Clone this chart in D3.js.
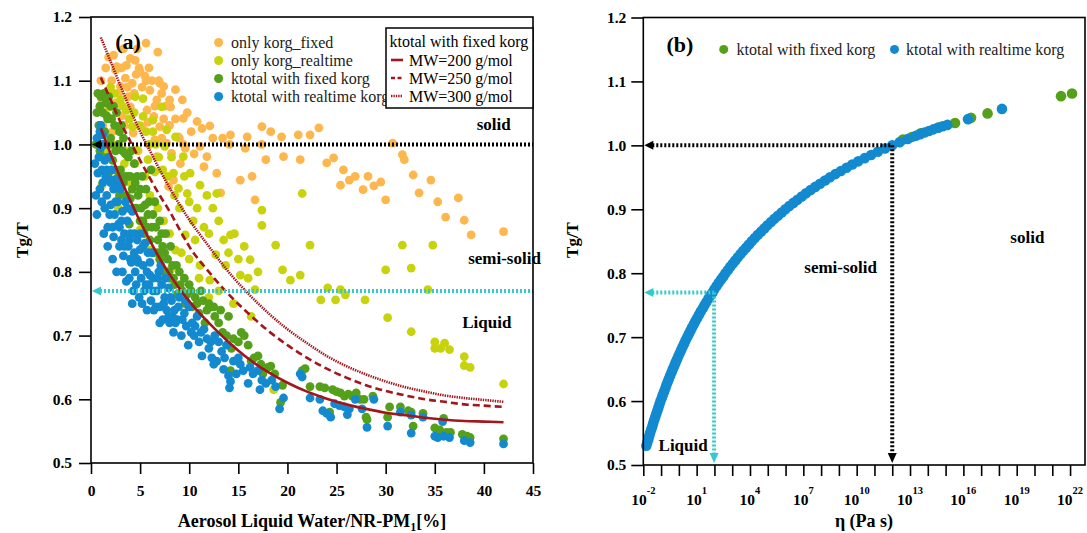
<!DOCTYPE html>
<html>
<head>
<meta charset="utf-8">
<script src="https://cdn.jsdelivr.net/npm/d3@7"></script>
<style>
  body { margin: 0; background: #fff; }
  svg { display: block; font-family: "Liberation Serif", "Times New Roman", serif; }
</style>
</head>
<body>
<svg id="chart" width="1087" height="533"></svg>
<script>
// ---- panel (a) data: [ALW/NR-PM1 %, Tg/T] ----
const orangeFixed = [
  [5.6,1.159],[6.8,1.145],[1.8,1.137],[4.5,1.132],[3.6,1.124],[4.9,1.12],[2.5,1.117],[2.6,1.122],
  [7.4,1.091],[8.6,1.086],[9.3,1.07],[9.4,1.041],[6.7,1.07],[7.2,1.08],[5.0,1.114],[4.6,1.11],
  [3.5,1.104],[5.5,1.107],[4.2,1.096],[3.0,1.091],[1.9,1.086],[1.4,1.075],[1.1,1.07],[2.4,1.065],
  [4.0,1.059],[5.7,1.054],[6.4,1.044],[7.0,1.028],[5.2,1.028],[4.3,1.018],[6.5,1.007],[7.7,1.002],
  [6.7,0.981],[8.4,0.944],[7.9,0.934],[5.6,1.1],[7.0,1.096],[8.1,1.059],[3.2,1.045],[2.0,1.04],
  [1.2,1.03],[3.8,1.075],[6.0,1.085],[8.0,1.03],[9.0,1.01],[2.8,1.0],[4.8,0.99],[6.2,0.96],
  [1.0,1.1],[1.3,1.05],[1.5,1.12],[2.1,1.1],[2.3,1.14],[2.8,1.08],[3.1,1.12],[3.3,1.15],
  [3.7,1.09],[4.0,1.135],[4.4,1.08],[4.7,1.15],[5.2,1.09],[5.9,1.12],[6.2,1.1],[6.5,1.06],
  [6.9,1.1],[7.6,1.06],[8.0,1.07],[7.4,1.04],[8.6,1.04],[9.8,1.05],[10.2,1.02],[5.8,1.035],
  [3.4,1.03],[2.2,1.02],[9.4,1.0],[10.5,0.985],[6.0,1.0],[7.2,1.01],
  [10.8,1.036],[11.3,1.025],[12.1,1.029],[12.4,1.01],[14.2,1.015],[14.1,1.0],[13.4,1.01],[15.9,1.012],
  [17.4,1.028],[17.4,1.0],[19.6,0.981],[19.4,1.012],[21.1,1.015],[16.4,0.95],[12.8,0.955],[13.2,0.924],
  [9.6,0.994],[8.2,0.986],[8.9,1.012],[11.1,0.997],[11.8,0.981],[9.1,0.97],[11.5,0.965],
  [22.3,1.015],[23.2,1.026],[21.3,0.976],[24.0,0.971],[24.7,0.979],[25.7,0.96],[26.3,0.944],[26.9,0.95],
  [27.7,0.929],[25.4,0.936],[28.2,0.95],[28.8,0.935],[29.5,0.941],[30.0,0.913],[31.9,0.976],[32.8,0.952],
  [33.4,0.924],[34.6,0.944],[35.3,0.91],[36.1,0.886],[37.4,0.916],[38.0,0.881],[38.7,0.858],[42.0,0.863],
  [30.7,1.002],[31.7,0.984],[18.3,1.02],[17.8,0.976],[15.7,0.994],[15.2,0.944],[16.7,0.913]
];
const yellowRealtime = [
  [1.1,0.936],[2.6,1.028],[3.6,1.054],[4.5,1.075],[5.3,1.072],[6.3,1.038],[7.2,1.059],[7.7,1.023],
  [7.5,0.997],[8.6,1.012],[9.4,0.981],[10.1,0.955],[11.1,0.936],[8.4,0.955],[6.5,0.957],[5.8,0.976],
  [4.65,0.991],[4.2,1.028],[3.0,1.07],[1.9,1.059],[5.3,1.044],[6.3,1.02],[8.9,0.931],[9.8,0.923],
  [11.8,0.92],[12.8,0.923],[21.5,0.923],[2.2,1.0],[3.4,0.97],[4.0,0.94],[1.5,0.99],[2.8,0.9],
  [2.0,1.09],[2.4,1.08],[3.2,1.06],[3.9,1.04],[4.4,1.05],[4.9,1.03],[5.6,1.02],[5.9,1.0],
  [6.6,1.0],[6.9,0.98],[7.3,0.96],[7.8,0.95],[8.2,0.98],[8.5,0.92],[9.0,0.9],[9.5,0.95],
  [10.0,0.91],[10.4,0.88],[10.8,0.9],[11.5,0.87],[12.0,0.86],[12.4,0.9],[13.0,0.88],[13.5,0.85],
  [14.0,0.83],[14.6,0.86],[15.0,0.82],[15.6,0.84],[16.0,0.79],[17.0,0.8],[6.0,0.92],[6.8,0.9],
  [7.4,0.88],[8.0,0.86],[9.2,0.83],[10.0,0.82],[11.0,0.79],[12.0,0.76],[13.0,0.77],[14.5,0.75],
  [3.5,0.99],[4.5,0.97],[5.5,0.95],
  [5.0,0.866],[6.0,0.834],[7.0,0.819],[8.1,0.803],[8.6,0.834],[9.6,0.858],[10.6,0.85],[11.1,0.81],
  [12.1,0.787],[12.7,0.827],[13.7,0.81],[14.2,0.858],[15.2,0.795],[16.2,0.819],[16.7,0.772],[17.4,0.897],
  [17.4,0.873],[18.8,0.842],[19.5,0.803],[20.3,0.787],[21.3,0.795],[22.3,0.842],[23.4,0.756],[24.1,0.775],
  [25.4,0.772],[25.9,0.764],[24.9,0.756],[27.9,0.756],[30.0,0.803],[31.7,0.842],[32.6,0.806],[34.3,0.772],
  [34.8,0.842],[16.3,0.73],[18.6,0.615],[30.2,0.728],[32.6,0.706],[35.0,0.69],[35.0,0.68],[35.6,0.68],
  [36.0,0.688],[36.5,0.678],[38.0,0.653],[38.6,0.65],[38.0,0.667],[42.0,0.624]
];
const greenFixed = [
  [0.6,1.05],[0.8,1.03],[1.0,1.075],[1.1,1.0],[1.2,1.05],[1.4,1.02],[0.9,0.99],[1.5,1.065],
  [1.7,1.04],[1.9,1.0],[2.0,1.06],[2.2,0.975],[2.4,1.03],[2.5,0.99],[1.8,0.955],
  [2.8,1.0],[3.0,0.96],[3.1,1.03],[3.3,0.94],[3.5,0.985],[2.9,0.92],
  [3.8,0.95],[4.0,0.915],[4.1,0.99],[4.3,0.9],[4.5,0.94],[3.9,0.875],
  [4.8,0.92],[5.0,0.88],[5.2,0.95],[5.4,0.86],[5.5,0.905],
  [5.8,0.89],[6.0,0.85],[6.2,0.87],[6.4,0.83],[6.5,0.91],[6.1,0.96],
  [6.8,0.85],[7.0,0.82],[7.2,0.86],[7.4,0.8],[7.5,0.83],
  [7.8,0.82],[8.0,0.79],[8.3,0.81],[8.5,0.78],[8.8,0.765],[9.0,0.8],[9.3,0.77],
  [0.5,1.0],[0.7,1.08],[0.9,1.06],[1.0,1.02],[1.2,0.98],[1.3,1.08],[1.5,1.0],[1.6,1.045],
  [1.8,1.075],[2.0,1.01],[2.1,1.04],[2.3,1.06],[2.5,0.96],[2.6,1.05],[2.8,0.95],[2.9,1.02],
  [3.2,0.99],[3.3,1.01],[3.5,0.95],[3.6,0.92],[3.8,0.98],[4.0,0.95],[4.2,0.93],[4.4,0.97],
  [4.6,0.9],[4.7,0.95],[5.0,0.93],[5.1,0.9],[5.3,0.88],[5.6,0.93],[5.7,0.87],[5.9,0.91],
  [6.3,0.89],[6.6,0.87],[6.8,0.83],[7.0,0.88],[7.3,0.84],[7.6,0.86],[7.9,0.8],[8.1,0.84],
  [8.4,0.79],[8.7,0.81],[9.1,0.78],[9.5,0.79],[9.8,0.765],[10.2,0.77],[10.8,0.75],[11.2,0.77],
  [11.8,0.74],[12.5,0.745],[13.2,0.74],[15.6,0.7],[16.0,0.685],
  [9.6,0.75],[10.0,0.78],[10.3,0.745],[10.6,0.76],[11.0,0.735],[11.4,0.755],[11.6,0.72],[12.0,0.75],
  [12.3,0.745],[12.6,0.73],[13.0,0.72],[13.4,0.705],[13.8,0.7],[14.0,0.73],[14.3,0.68],[14.5,0.695],
  [15.0,0.69],[14.2,0.645],[15.3,0.705],
  [16.3,0.66],[16.6,0.665],[17.0,0.668],[17.3,0.655],[17.5,0.64],[18.0,0.65],[18.3,0.652],[18.7,0.64],
  [19.3,0.595],[19.5,0.622],[21.5,0.645],[21.8,0.648],[22.3,0.62],[23.3,0.62],[23.8,0.618],[24.3,0.58],
  [24.6,0.615],[25.0,0.612],[25.4,0.61],[25.8,0.605],[26.2,0.608],[26.6,0.605],[27.0,0.61],[27.4,0.6],
  [27.8,0.6],[28.0,0.572],[28.1,0.568],[28.7,0.605],[30.2,0.572],[30.4,0.588],[31.5,0.588],[32.3,0.582],
  [32.6,0.58],[32.8,0.558],[33.8,0.578],[35.0,0.555],[35.5,0.552],[35.9,0.57],[36.2,0.548],[36.6,0.548],
  [37.8,0.545],[38.3,0.542],[38.6,0.54],[42.0,0.538]
];
const blueRealtime = [
  [0.6,1.01],[0.8,0.98],[1.0,1.03],[1.0,0.995],[1.1,0.96],[1.2,0.94],[1.3,1.0],[1.4,0.975],
  [0.9,0.93],[1.5,0.95],[0.7,0.955],[1.2,1.015],
  [1.6,0.92],[1.8,0.98],[1.9,0.945],[2.0,0.905],[2.1,0.96],[2.3,0.93],[2.4,0.89],[2.5,0.945],[1.7,0.87],[2.2,0.87],
  [2.7,0.91],[2.8,0.875],[3.0,0.93],[3.1,0.85],[3.2,0.895],[3.4,0.86],[3.5,0.91],[2.9,0.84],[3.3,0.825],
  [3.7,0.88],[3.8,0.84],[4.0,0.86],[4.1,0.815],[4.2,0.895],[4.4,0.83],[4.5,0.8],[3.9,0.79],[4.3,0.77],
  [4.7,0.85],[4.8,0.815],[5.0,0.835],[5.1,0.79],[5.3,0.81],[5.4,0.77],[5.5,0.845],[4.9,0.76],
  [5.7,0.8],[5.9,0.78],[6.0,0.815],[6.1,0.755],[6.3,0.79],[6.4,0.74],[5.8,0.83],
  [6.7,0.77],[6.9,0.8],[7.0,0.745],[7.2,0.78],[7.3,0.725],[7.5,0.76],
  [7.7,0.74],[7.9,0.775],[8.0,0.72],[8.2,0.755],[8.4,0.705],[8.5,0.74],
  [8.8,0.725],[9.0,0.76],[9.2,0.7],[9.5,0.735],[9.7,0.715],[9.9,0.685],[10.0,0.745],
  [0.4,0.97],[0.5,0.92],[0.6,0.89],[0.9,1.02],[1.1,0.91],[1.3,0.86],[1.4,0.9],[1.6,0.96],
  [1.7,0.84],[1.9,0.89],[2.0,0.94],[2.2,0.82],[2.3,0.855],[2.5,0.91],[2.6,0.8],[2.7,0.94],
  [2.9,0.87],[3.1,0.88],[3.2,0.8],[3.4,0.84],[3.6,0.785],[3.7,0.9],[3.9,0.85],[4.0,0.82],
  [4.2,0.75],[4.4,0.86],[4.6,0.78],[4.7,0.82],[5.0,0.86],[5.2,0.75],[5.3,0.84],[5.6,0.78],
  [5.7,0.74],[6.0,0.795],[6.2,0.83],[6.3,0.77],[6.6,0.745],[6.8,0.79],[7.0,0.72],[7.1,0.81],
  [7.4,0.75],[7.6,0.79],[7.9,0.73],[8.1,0.76],[8.3,0.73],[8.6,0.72],[8.9,0.745],[9.3,0.725],
  [9.6,0.755],[10.2,0.705],[10.6,0.715],[11.2,0.705],[12.2,0.69],[12.5,0.655],[13.6,0.665],[14.8,0.64],
  [15.5,0.645],[16.2,0.65],
  [10.3,0.72],[10.5,0.7],[10.8,0.73],[11.0,0.69],[11.3,0.668],[11.5,0.71],[11.8,0.695],[12.0,0.68],
  [12.3,0.665],[12.6,0.7],[12.8,0.66],[13.0,0.69],[13.3,0.675],[13.5,0.647],[13.8,0.685],[14.0,0.637],
  [14.1,0.618],[14.2,0.628],[14.5,0.66],[15.0,0.665],[15.2,0.655],
  [16.0,0.625],[16.5,0.64],[17.0,0.645],[17.2,0.615],[17.4,0.63],[17.8,0.625],[18.4,0.63],[18.8,0.62],
  [19.2,0.585],[19.6,0.602],
  [21.3,0.64],[21.5,0.635],[22.3,0.602],[23.3,0.6],[23.6,0.582],[24.0,0.578],[24.4,0.572],[24.8,0.593],
  [25.3,0.59],[25.8,0.588],[26.1,0.576],[26.3,0.585],[26.9,0.6],[27.6,0.585],[28.1,0.556],[28.8,0.6],
  [30.2,0.558],[31.5,0.58],[32.6,0.547],[32.6,0.575],[33.8,0.572],[35.0,0.542],[35.3,0.54],[35.8,0.565],
  [35.9,0.542],[36.5,0.54],[38.0,0.535],[38.6,0.532],[42.0,0.53]
];

// ktotal with fixed korg, fitted lines for three MW
const mw200 = [[1,1.025],[2,0.985],[3,0.947],[4,0.912],[5,0.879],[6,0.849],[7,0.821],[8,0.796],[9,0.774],
  [10,0.754],[11,0.736],[12,0.72],[14,0.69],[16,0.664],[18,0.643],[20,0.626],[22,0.612],[24,0.601],
  [26,0.592],[28,0.585],[30,0.579],[32,0.575],[34,0.571],[36,0.568],[38,0.566],[40,0.565],[42,0.564]];
const mw250 = [[1,1.105],[2,1.07],[3,1.035],[4,1.005],[5,0.975],[6,0.947],[7,0.92],[8,0.895],[9,0.867],
  [10,0.84],[12,0.8],[14,0.765],[16,0.735],[18,0.708],[20,0.685],[22,0.665],[24,0.648],[26,0.634],
  [28,0.622],[30,0.613],[32,0.606],[34,0.6],[36,0.596],[38,0.592],[40,0.59],[42,0.588]];
const mw300 = [[1,1.168],[2,1.13],[3,1.092],[4,1.055],[5,1.02],[6,0.99],[7,0.96],[8,0.932],[9,0.906],
  [10,0.882],[12,0.84],[14,0.8],[16,0.766],[18,0.736],[20,0.71],[22,0.688],[24,0.668],[26,0.652],
  [28,0.639],[30,0.628],[32,0.619],[34,0.612],[36,0.606],[38,0.602],[40,0.599],[42,0.596]];

// ---- panel (b) data: [log10 viscosity (Pa s), Tg/T] ----
const etaFixed = [[12.6,1.009],[13.1,1.013],[13.6,1.019],[14.6,1.028],[15.53,1.035],[16.43,1.043],
  [17.36,1.05],[21.49,1.077],[22.11,1.081]];
const etaRealtime = [
  [-1.83,0.53],[-1.78,0.535],[-1.72,0.54],[-1.67,0.545],[-1.62,0.55],[-1.56,0.555],[-1.5,0.56],[-1.45,0.565],
  [-1.39,0.57],[-1.33,0.575],[-1.27,0.58],[-1.21,0.585],[-1.15,0.59],[-1.09,0.595],[-1.03,0.6],[-0.96,0.605],
  [-0.9,0.61],[-0.83,0.615],[-0.76,0.62],[-0.7,0.625],[-0.63,0.63],[-0.56,0.635],[-0.49,0.64],[-0.41,0.645],
  [-0.34,0.65],[-0.26,0.655],[-0.19,0.66],[-0.11,0.665],[-0.03,0.67],[0.05,0.675],[0.13,0.68],[0.21,0.685],
  [0.3,0.69],[0.38,0.695],[0.47,0.7],[0.56,0.705],[0.65,0.71],[0.74,0.715],[0.84,0.72],[0.93,0.725],
  [1.03,0.73],[1.13,0.735],[1.23,0.74],[1.34,0.745],[1.44,0.75],[1.55,0.755],[1.66,0.76],[1.77,0.765],
  [1.89,0.77],[2.0,0.775],[2.12,0.78],[2.24,0.785],[2.37,0.79],[2.5,0.795],[2.62,0.8],[2.76,0.805],
  [2.89,0.81],[3.03,0.815],[3.17,0.82],[3.32,0.825],[3.47,0.83],[3.62,0.835],[3.78,0.84],[3.94,0.845],
  [4.1,0.85],[4.27,0.855],[4.44,0.86],[4.62,0.865],[4.8,0.87],[4.98,0.875],[5.18,0.88],[5.37,0.885],
  [5.57,0.89],[5.78,0.895],[5.99,0.9],[6.21,0.905],[6.44,0.91],[6.67,0.915],[6.91,0.92],[7.15,0.925],
  [7.41,0.93],[7.67,0.935],[7.94,0.94],[8.22,0.945],[8.5,0.95],[8.8,0.955],[9.11,0.96],[9.43,0.965],
  [9.75,0.97],[10.09,0.975],[10.45,0.98],[10.81,0.985],[11.19,0.99],[11.59,0.995],[12.0,1.0],[12.42,1.005],
  [12.87,1.01],[13.33,1.015],[13.57,1.0175],[13.81,1.02],[14.06,1.0225],[14.31,1.025],[14.57,1.0275],
  [14.84,1.03],[15.1,1.032],[16.26,1.041],[18.17,1.057]
];

const tgTicks = [0.5,0.6,0.7,0.8,0.9,1.0,1.1,1.2];
const alwTicks = [0,5,10,15,20,25,30,35,40,45];
const etaTicks = [-2,-1,0,1,2,3,4,5,6,7,8,9,10,11,12,13,14,15,16,17,18,19,20,21,22];
const etaLabels = [-2,1,4,7,10,13,16,19,22];

const colors = {
  orange: "#fdb74c", yellow: "#c9d30d", green: "#55a01b", blue: "#138ad0",
  red: "#a3161b", cyan: "#34c9cc"
};

const svg = d3.select("#chart");

const xA = d3.scaleLinear().domain([0, 45]).range([91, 533]);
const yA = d3.scaleLinear().domain([0.5, 1.2]).range([463, 17]);
const xB = d3.scaleLinear().domain([-2, 22.84]).range([643.3, 1085]);
const yB = d3.scaleLinear().domain([0.5, 1.2]).range([465, 17.5]);

function drawDots(g, data, x, y, color, r) {
  g.append("g").selectAll("circle")
    .data(data)
    .join("circle")
    .attr("cx", d => x(d[0]))
    .attr("cy", d => y(d[1]))
    .attr("r", r)
    .attr("fill", color);
}

function styleAxis(g, size) {
  g.select(".domain").remove();
  g.selectAll(".tick line").attr("stroke", "#000").attr("stroke-width", 1.6);
  g.selectAll(".tick text")
    .attr("fill", "#000")
    .style("font-size", size + "px")
    .style("font-weight", "bold")
    .style("font-family", '"Liberation Serif", "Times New Roman", serif');
}

function dottedLine(g, x1, y1, x2, y2, color) {
  g.append("line")
    .attr("x1", x1).attr("y1", y1).attr("x2", x2).attr("y2", y2)
    .attr("stroke", color)
    .attr("stroke-width", 4)
    .attr("stroke-dasharray", "2,2");
}

function arrowLeft(g, x, y, color) {
  g.append("path").attr("d", `M${x},${y}L${x + 9},${y - 4.5}L${x + 9},${y + 4.5}Z`).attr("fill", color);
}

function arrowDown(g, x, y, color) {
  g.append("path").attr("d", `M${x},${y}L${x - 4.5},${y - 10}L${x + 4.5},${y - 10}Z`).attr("fill", color);
}

function label(g, x, y, txt, size, weight, anchor) {
  return g.append("text")
    .attr("x", x).attr("y", y)
    .attr("text-anchor", anchor || "middle")
    .style("font-size", size + "px")
    .style("font-weight", weight || "bold")
    .attr("fill", "#000")
    .text(txt);
}

// ================= panel (a) =================
const gA = svg.append("g");

drawDots(gA, orangeFixed, xA, yA, colors.orange, 4.4);
drawDots(gA, yellowRealtime, xA, yA, colors.yellow, 4.4);
drawDots(gA, greenFixed, xA, yA, colors.green, 4.4);
drawDots(gA, blueRealtime, xA, yA, colors.blue, 4.4);

const lineA = d3.line().x(d => xA(d[0])).y(d => yA(d[1])).curve(d3.curveMonotoneX);
gA.append("path").datum(mw200).attr("d", lineA)
  .attr("fill", "none").attr("stroke", colors.red).attr("stroke-width", 2.6);
gA.append("path").datum(mw250).attr("d", lineA)
  .attr("fill", "none").attr("stroke", colors.red).attr("stroke-width", 2.6).attr("stroke-dasharray", "7,4");
gA.append("path").datum(mw300).attr("d", lineA)
  .attr("fill", "none").attr("stroke", colors.red).attr("stroke-width", 2.6).attr("stroke-dasharray", "1.4,1");

// phase boundaries
dottedLine(gA, xA(0) + 9, yA(1.0), xA(45), yA(1.0), "#000");
arrowLeft(gA, xA(0) + 1, yA(1.0), "#000");
dottedLine(gA, xA(0) + 9, yA(0.77), xA(45), yA(0.77), colors.cyan);
arrowLeft(gA, xA(0) + 1, yA(0.77), colors.cyan);

gA.append("rect")
  .attr("x", xA(0)).attr("y", yA(1.2))
  .attr("width", xA(45) - xA(0)).attr("height", yA(0.5) - yA(1.2))
  .attr("fill", "none").attr("stroke", "#000").attr("stroke-width", 1.6);

gA.append("g").attr("transform", `translate(${xA(0)},0)`)
  .call(d3.axisLeft(yA).tickValues(tgTicks).tickFormat(d3.format(".1f")).tickSize(12).tickPadding(7))
  .call(g => styleAxis(g, 15.5));
gA.append("g").attr("transform", `translate(0,${yA(0.5)})`)
  .call(d3.axisBottom(xA).tickValues(alwTicks).tickFormat(d3.format("d")).tickSize(11).tickPadding(11))
  .call(g => styleAxis(g, 15.5));

label(gA, xA(41), yA(1.023), "solid", 17);
label(gA, xA(42.1), yA(0.812), "semi-solid", 17);
label(gA, xA(40.3), yA(0.712), "Liquid", 17);
label(gA, 128, 49, "(a)", 22);

gA.append("text")
  .attr("transform", "translate(28,240) rotate(-90)")
  .attr("text-anchor", "middle")
  .style("font-size", "17px").style("font-weight", "bold")
  .text("Tg/T");

const xTitle = gA.append("text")
  .attr("x", 312).attr("y", 527)
  .attr("text-anchor", "middle")
  .style("font-size", "18px").style("font-weight", "bold");
xTitle.append("tspan").text("Aerosol Liquid Water/NR-PM");
xTitle.append("tspan").attr("dy", 4).style("font-size", "12px").text("1");
xTitle.append("tspan").attr("dy", -4).text("[%]");

// legend (a), dots
const legDots = [
  ["only korg_fixed", colors.orange],
  ["only korg_realtime", colors.yellow],
  ["ktotal with fixed korg", colors.green],
  ["ktotal with realtime korg", colors.blue]
];
legDots.forEach((d, i) => {
  const y = 42.5 + i * 18;
  gA.append("circle").attr("cx", 218.6).attr("cy", y).attr("r", 4.5).attr("fill", d[1]);
  label(gA, 231, y + 5.5, d[0], 16, "normal", "start").attr("fill", "#222");
});

// legend (a), MW lines box
gA.append("rect")
  .attr("x", 386).attr("y", 28).attr("width", 147).attr("height", 80)
  .attr("fill", "#fff").attr("stroke", "#000").attr("stroke-width", 1.5);
label(gA, 389.5, 47, "ktotal with fixed korg", 16, "normal", "start");
const legLines = [["MW=200 g/mol", null, 2.6], ["MW=250 g/mol", "4,2.5", 2.6], ["MW=300 g/mol", "1.4,1", 2.6]];
legLines.forEach((d, i) => {
  const y = 60 + i * 18;
  gA.append("line")
    .attr("x1", 391).attr("x2", 403).attr("y1", y).attr("y2", y)
    .attr("stroke", colors.red).attr("stroke-width", d[2])
    .attr("stroke-dasharray", d[1]);
  label(gA, 409, y + 5.5, d[0], 16, "normal", "start");
});

// ================= panel (b) =================
const gB = svg.append("g");

drawDots(gB, etaFixed, xB, yB, colors.green, 5.3);
drawDots(gB, etaRealtime, xB, yB, colors.blue, 5.3);

dottedLine(gB, xB(-2) + 9, yB(1.0), xB(12), yB(1.0), "#000");
arrowLeft(gB, xB(-2) + 1, yB(1.0), "#000");
dottedLine(gB, xB(12), yB(1.0), xB(12), yB(0.5) - 9, "#000");
arrowDown(gB, xB(12), yB(0.5) - 2, "#000");

dottedLine(gB, xB(-2) + 9, yB(0.77), xB(1.98), yB(0.77), colors.cyan);
arrowLeft(gB, xB(-2) + 1, yB(0.77), colors.cyan);
dottedLine(gB, xB(1.98), yB(0.77), xB(1.98), yB(0.5) - 9, colors.cyan);
arrowDown(gB, xB(1.98), yB(0.5) - 2, colors.cyan);

gB.append("rect")
  .attr("x", xB(-2)).attr("y", yB(1.2))
  .attr("width", xB(22.84) - xB(-2)).attr("height", yB(0.5) - yB(1.2))
  .attr("fill", "none").attr("stroke", "#000").attr("stroke-width", 1.6);

gB.append("g").attr("transform", `translate(${xB(-2)},0)`)
  .call(d3.axisLeft(yB).tickValues(tgTicks).tickFormat(d3.format(".1f")).tickSize(12).tickPadding(5))
  .call(g => styleAxis(g, 15.5));
gB.append("g").attr("transform", `translate(0,${yB(0.5)})`)
  .call(d3.axisBottom(xB).tickValues(etaTicks).tickFormat("").tickSize(11))
  .call(g => styleAxis(g, 15.5));

etaLabels.forEach(e => {
  const t = gB.append("text")
    .attr("x", xB(e)).attr("y", 505)
    .attr("text-anchor", "middle")
    .style("font-size", "15.5px").style("font-weight", "bold");
  t.append("tspan").text("10");
  t.append("tspan").attr("dy", -11).style("font-size", "10.5px").text(e);
});

label(gB, xB(19.6), yB(0.847), "solid", 17);
label(gB, xB(9.1), yB(0.8), "semi-solid", 17);
label(gB, xB(0.24), yB(0.522), "Liquid", 17);
label(gB, 680, 52, "(b)", 22);

gB.append("text")
  .attr("transform", "translate(578,240) rotate(-90)")
  .attr("text-anchor", "middle")
  .style("font-size", "17px").style("font-weight", "bold")
  .text("Tg/T");
label(gB, 864, 527, "\u03b7 (Pa s)", 18);

// legend (b)
gB.append("circle").attr("cx", 723.7).attr("cy", 49.4).attr("r", 4.5).attr("fill", colors.green);
label(gB, 736.5, 55, "ktotal with fixed korg", 16, "normal", "start").attr("fill", "#222");
gB.append("circle").attr("cx", 894.5).attr("cy", 49.4).attr("r", 4.5).attr("fill", colors.blue);
label(gB, 906, 55, "ktotal with realtime korg", 16, "normal", "start").attr("fill", "#222");
</script>
</body>
</html>
